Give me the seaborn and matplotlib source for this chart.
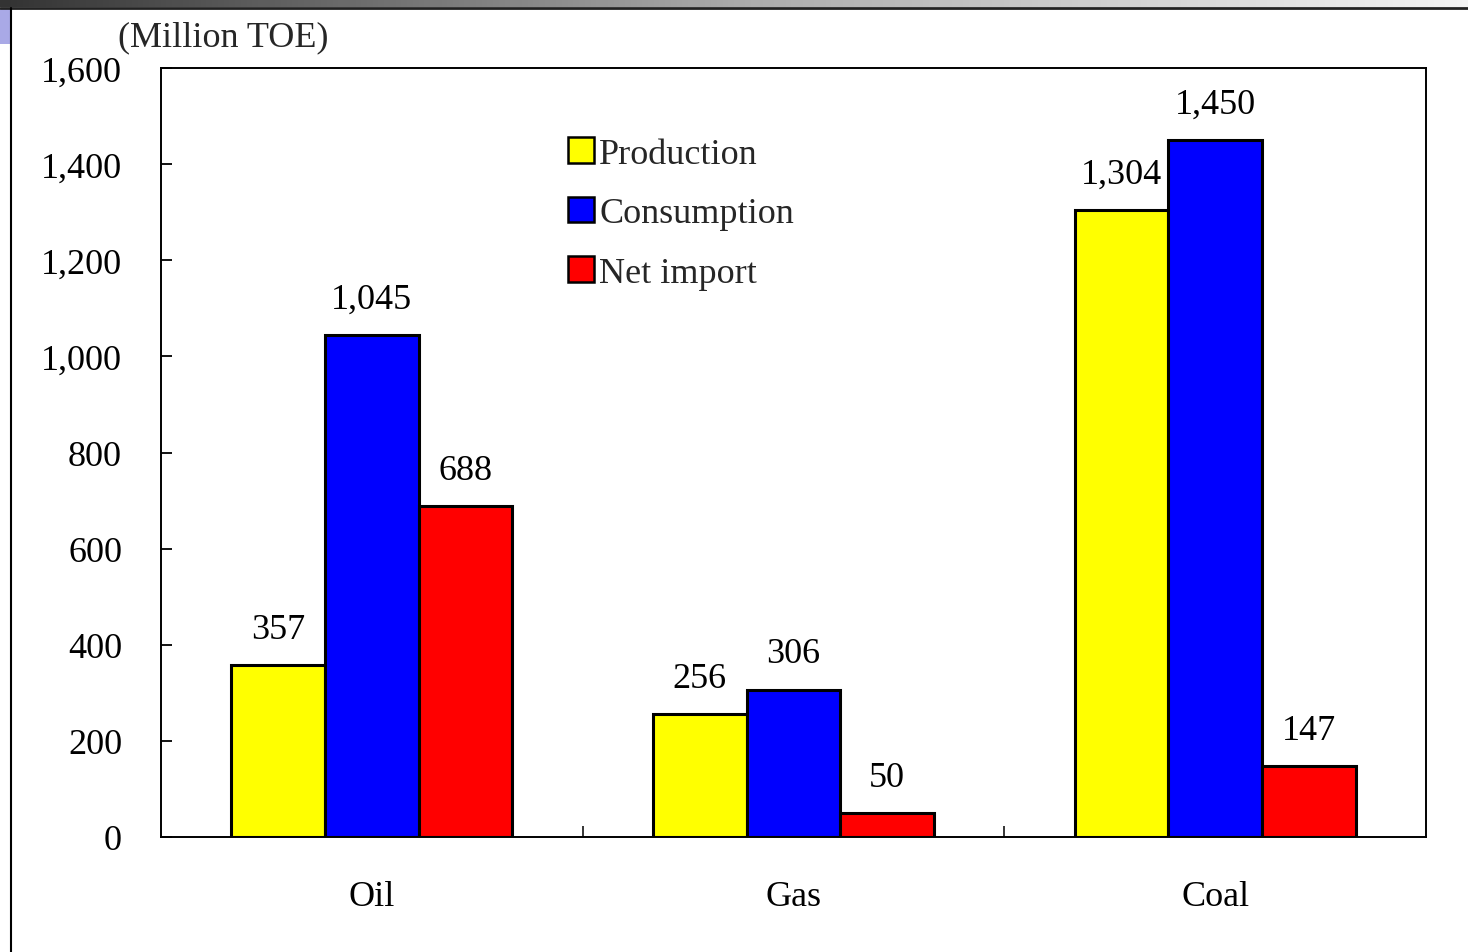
import numpy as np
import pandas as pd
import matplotlib
matplotlib.use("Agg")
import matplotlib.pyplot as plt
import seaborn as sns
from matplotlib.patches import Rectangle
from matplotlib.lines import Line2D

categories = ["Oil", "Gas", "Coal"]
series = ["Production", "Consumption", "Net import"]
production = [357, 256, 1304]
consumption = [1045, 306, 1450]
net_import = [688, 50, 147]
colors = ["#FFFF00", "#0000FF", "#FF0000"]
yticks = [0, 200, 400, 600, 800, 1000, 1200, 1400, 1600]

rows = []
for s, vals in zip(series, [production, consumption, net_import]):
    for c, v in zip(categories, vals):
        rows.append({"Fuel": c, "Series": s, "Value": v})
df = pd.DataFrame(rows)

sns.set_theme(style="white")
plt.rcParams["font.family"] = ["Liberation Serif", "DejaVu Serif"]

fig = plt.figure(figsize=(14.68, 9.53), dpi=100)
ax = fig.add_axes([161 / 1468, 1 - 838 / 953, (1426 - 161) / 1468, (838 - 69) / 953])

sns.barplot(data=df, x="Fuel", y="Value", hue="Series", order=categories,
            hue_order=series, palette=colors, width=0.667, ax=ax,
            edgecolor="black", linewidth=2.2, saturation=1, errorbar=None,
            legend=False)

for cont in ax.containers:
    ax.bar_label(cont, labels=[f"{v:,.0f}" for v in cont.datavalues],
                 padding=14, fontsize=26, color="black")

ax.set_xlim(-0.5, 2.5)
ax.set_ylim(0, 1600)
ax.set_yticks(yticks)
ax.set_yticklabels([f"{v:,}" for v in yticks])
ax.set_xlabel("")
ax.set_ylabel("")
ax.tick_params(axis="y", direction="in", length=8, width=1.3, left=True,
               labelsize=26, pad=28, colors="black")
ax.tick_params(axis="x", length=0, labelsize=26, pad=31, colors="black")
ax.set_xticks([0.5, 1.5], minor=True)
ax.tick_params(axis="x", which="minor", direction="in", length=8, width=1.3, bottom=True)
for sp in ax.spines.values():
    sp.set_visible(True)
    sp.set_color("black")
    sp.set_linewidth(1.4)

handles = [Rectangle((0, 0), 1, 1, facecolor=c, edgecolor="black", linewidth=1.8) for c in colors]
ax.legend(handles, series, loc="upper left", bbox_to_anchor=(550 / 1468, 1 - 120 / 953),
          bbox_transform=fig.transFigure, frameon=False, fontsize=26,
          handlelength=0.72, handleheight=0.72, handletextpad=0.15,
          labelspacing=0.72, borderpad=0)

fig.text(118 / 1468, 1 - 38 / 953, "(Million TOE)", fontsize=26, ha="left", va="center")

# slide decorations
grad = np.linspace(0, 1, 256).reshape(1, -1)
gax = fig.add_axes([0, 1 - 8 / 953, 1, 8 / 953])
gax.imshow(grad, aspect="auto", cmap=matplotlib.colors.LinearSegmentedColormap.from_list(
    "g", ["#333333", "#aaaaaa", "#f4f4f4"]), extent=[0, 1, 0, 1])
gax.axis("off")
fig.add_artist(Line2D([0, 1], [1 - 9 / 953, 1 - 9 / 953], transform=fig.transFigure,
                      color="#222222", linewidth=2))
fig.add_artist(Rectangle((0, 1 - 45 / 953), 10 / 1468, 36 / 953, transform=fig.transFigure,
                         facecolor="#a9a9e6", edgecolor="none"))
fig.add_artist(Line2D([10.5 / 1468, 10.5 / 1468], [0, 1 - 9 / 953], transform=fig.transFigure,
                      color="black", linewidth=1.5))

fig.savefig("out.png", dpi=100)
